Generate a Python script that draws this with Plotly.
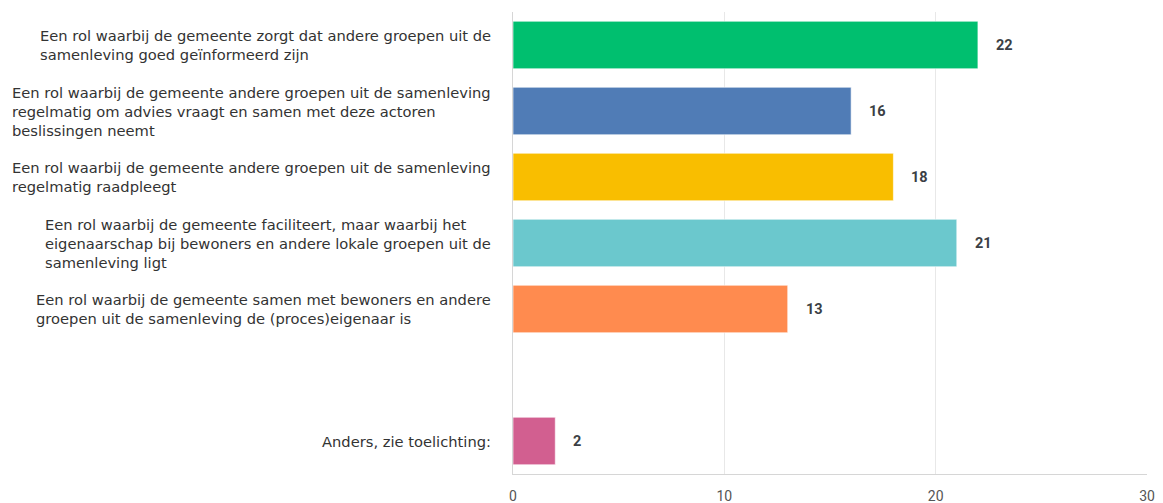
import plotly.graph_objects as go

# answer options, top to bottom (one empty slot before "Anders")
labels = [
    "Een rol waarbij de gemeente zorgt dat andere groepen uit de<br>samenleving goed geïnformeerd zijn",
    "Een rol waarbij de gemeente andere groepen uit de samenleving<br>regelmatig om advies vraagt en samen met deze actoren<br>beslissingen neemt",
    "Een rol waarbij de gemeente andere groepen uit de samenleving<br>regelmatig raadpleegt",
    "Een rol waarbij de gemeente faciliteert, maar waarbij het<br>eigenaarschap bij bewoners en andere lokale groepen uit de<br>samenleving ligt",
    "Een rol waarbij de gemeente samen met bewoners en andere<br>groepen uit de samenleving de (proces)eigenaar is",
    "",
    "Anders, zie toelichting:",
]
counts = [22, 16, 18, 21, 13, None, 2]
colors = ["#00BF6F", "#507CB6", "#F9BE00", "#6BC8CD", "#FF8B4F", "#FFFFFF", "#D25F90"]

x_ticks = [0, 10, 20, 30]

# unique category keys (labels are drawn as annotations)
cats = [f"c{i}" for i in range(len(labels))]

fig = go.Figure(
    go.Bar(
        x=counts,
        y=cats,
        orientation="h",
        marker=dict(color=colors, line=dict(color="rgba(255,255,255,0.6)", width=1)),
        hoverinfo="x",
    )
)

# category labels: left-aligned block, right-aligned against the axis
for cat, lab in zip(cats, labels):
    if not lab:
        continue
    fig.add_annotation(
        x=0, xref="paper", y=cat, yref="y",
        text=lab, showarrow=False,
        xanchor="right", yanchor="middle", align="left",
        xshift=-20,
        font=dict(family="DejaVu Sans", size=14.7, color="#333333"),
    )

# value labels next to the bars
for cat, v in zip(cats, counts):
    if v is None:
        continue
    fig.add_annotation(
        x=v, y=cat, text=f"<b>{v}</b>", showarrow=False,
        xanchor="left", yanchor="middle", xshift=16,
        font=dict(family="Roboto", size=14.5, color="#3b3f45"),
    )

fig.update_xaxes(
    range=[0, 30],
    tickvals=x_ticks,
    showgrid=True, gridcolor="#e8e8e8", gridwidth=1,
    showline=True, linecolor="#d6d6d6", linewidth=1,
    zeroline=False, automargin=False,
    ticks="", ticklabelstandoff=9,
    tickfont=dict(family="Roboto", size=14, color="#555555"),
)
fig.update_yaxes(
    categoryorder="array", categoryarray=cats[::-1],
    showticklabels=False,
    showline=True, linecolor="#d6d6d6", linewidth=1,
    showgrid=False, zeroline=False, automargin=False,
)

fig.update_layout(
    width=1163, height=503,
    margin=dict(l=513, r=16, t=12, b=29),
    bargap=0.28,
    plot_bgcolor="white", paper_bgcolor="white",
    showlegend=False,
)

# drop the default body margin so the figure fills the window exactly
fig.write_html(
    "out.html",
    config={"displayModeBar": False},
    post_script="document.body.style.margin='0px';",
)
